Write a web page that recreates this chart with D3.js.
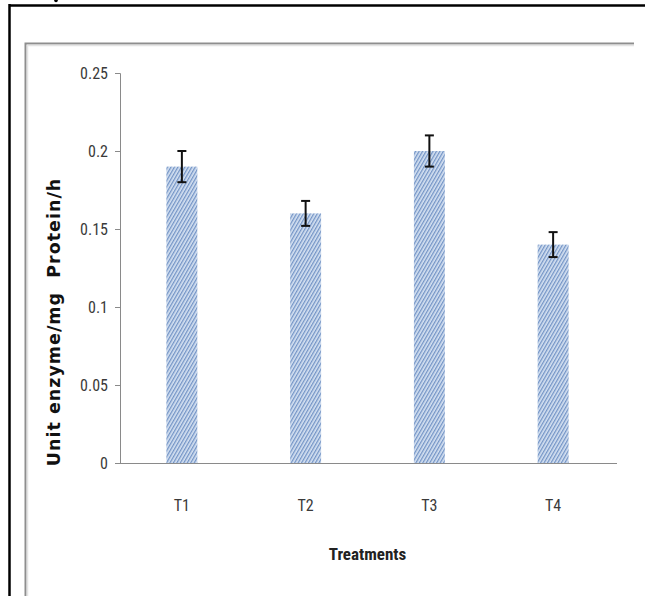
<!DOCTYPE html>
<html>
<head>
<meta charset="utf-8">
<script src="https://cdn.jsdelivr.net/npm/d3@7/dist/d3.min.js"></script>
<style>
  html, body { margin: 0; padding: 0; background: #fff; }
  svg { display: block; }
</style>
</head>
<body>
<svg id="chart" width="645" height="596"></svg>
<script>
const categories = ["T1", "T2", "T3", "T4"];
const values = [0.19, 0.16, 0.20, 0.14];
const errors = [0.01, 0.008, 0.01, 0.008];
const yTicks = [0, 0.05, 0.1, 0.15, 0.2, 0.25];
const yTickLabels = ["0", "0.05", "0.1", "0.15", "0.2", "0.25"];
const yLabel = "Unit enzyme/mg  Protein/h";
const xLabel = "Treatments";

const svg = d3.select("#chart");
const W = 645, H = 596;
const plot = { left: 120, right: 615, top: 73, bottom: 463 };
const condensed = "'Liberation Sans Narrow', 'Arial Narrow', 'Roboto Condensed', 'DejaVu Sans Condensed', sans-serif";

// hatch pattern
const defs = svg.append("defs");
const pat = defs.append("pattern")
  .attr("id", "hatch")
  .attr("patternUnits", "userSpaceOnUse")
  .attr("width", 3).attr("height", 3)
  .attr("patternTransform", "rotate(30)");
pat.append("rect").attr("width", 3).attr("height", 3).attr("fill", "#d6e2f2");
pat.append("rect").attr("width", 1.3).attr("height", 3).attr("fill", "#7394c6");

// outer black frame
svg.append("line").attr("x1", 9).attr("x2", W).attr("y1", 5.5).attr("y2", 5.5)
  .attr("stroke", "#000").attr("stroke-width", 2.5);
svg.append("line").attr("x1", 9.5).attr("x2", 9.5).attr("y1", 4).attr("y2", H)
  .attr("stroke", "#000").attr("stroke-width", 2.5);
svg.append("circle").attr("cx", 56).attr("cy", 0.5).attr("r", 1.8).attr("fill", "#000");

// inner gray frame
svg.append("path")
  .attr("d", `M25.5,${H} L25.5,43.5 L634,43.5`)
  .attr("fill", "none").attr("stroke", "#8e8e8e").attr("stroke-width", 2);
svg.append("path")
  .attr("d", `M27.5,${H} L27.5,45.5 L634,45.5`)
  .attr("fill", "none").attr("stroke", "#e4e4e4").attr("stroke-width", 1.5);

const x = d3.scaleBand().domain(categories).range([plot.left, plot.right]).paddingInner(0.75).paddingOuter(0.375);
const y = d3.scaleLinear().domain([0, 0.25]).range([plot.bottom, plot.top]);

// y axis
const yAxis = d3.axisLeft(y).tickValues(yTicks).tickSize(5).tickPadding(7)
  .tickFormat((d, i) => yTickLabels[i]);
const gy = svg.append("g").attr("transform", `translate(${plot.left},0)`).call(yAxis);
gy.select(".domain").attr("stroke", "#8a8a8a");
gy.selectAll(".tick line").attr("stroke", "#8a8a8a");
gy.selectAll(".tick text").attr("fill", "#3a3a3a").style("font-family", condensed).style("font-size", "16px");

// x axis
const xAxis = d3.axisBottom(x).tickSize(0).tickPadding(37);
const gx = svg.append("g").attr("transform", `translate(0,${plot.bottom})`).call(xAxis);
gx.select(".domain").attr("d", `M${plot.left - 5},0.5H${plot.right + 2}`).attr("stroke", "#8a8a8a");
gx.selectAll(".tick text").attr("fill", "#3a3a3a").style("font-family", condensed).style("font-size", "16px");

// bars
svg.append("g").selectAll("rect").data(categories).join("rect")
  .attr("x", d => x(d))
  .attr("width", x.bandwidth())
  .attr("y", (d, i) => y(values[i]))
  .attr("height", (d, i) => y(0) - y(values[i]))
  .attr("fill", "url(#hatch)");

// error bars
const eg = svg.append("g").attr("stroke", "#111").attr("stroke-width", 2);
categories.forEach((c, i) => {
  const cx = x(c) + x.bandwidth() / 2;
  const y1 = y(values[i] + errors[i]), y2 = y(values[i] - errors[i]);
  eg.append("line").attr("x1", cx).attr("x2", cx).attr("y1", y1).attr("y2", y2);
  eg.append("line").attr("x1", cx - 4.5).attr("x2", cx + 4.5).attr("y1", y1).attr("y2", y1);
  eg.append("line").attr("x1", cx - 4.5).attr("x2", cx + 4.5).attr("y1", y2).attr("y2", y2);
});

// axis titles
svg.append("text")
  .attr("transform", `translate(60,322) rotate(-90)`)
  .attr("text-anchor", "middle")
  .style("font-family", "'DejaVu Sans', Verdana, sans-serif")
  .style("font-weight", "bold").style("font-size", "17.5px")
  .style("letter-spacing", "1px")
  .attr("fill", "#111")
  .attr("xml:space", "preserve")
  .style("white-space", "pre")
  .text(yLabel);

svg.append("text")
  .attr("x", (plot.left + plot.right) / 2).attr("y", 560)
  .attr("text-anchor", "middle")
  .style("font-family", condensed)
  .style("font-weight", "bold").style("font-size", "17px")
  .attr("fill", "#222")
  .text(xLabel);
</script>
</body>
</html>
